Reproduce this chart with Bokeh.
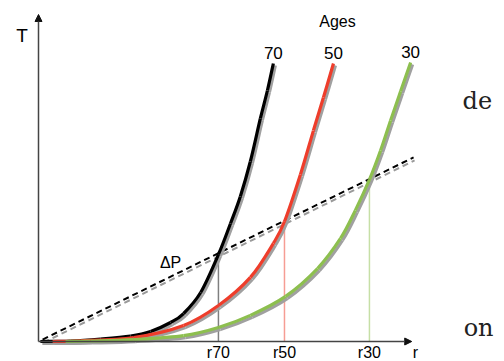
import numpy as np
from bokeh.plotting import figure
from bokeh.models import Range1d, Arrow, NormalHead
from bokeh.core.properties import value
from bokeh.embed import file_html
from bokeh.resources import INLINE

# ---- data (diagram units: r axis 0..100, T axis 0..100) ----
ages = ["70", "50", "30"]
r70 = [0.5, 8.6, 16.7, 24.8, 30.2, 35.6, 39.1, 43.7, 48.5, 51.75, 54.4, 57.1, 59.8, 61.7, 63.3]
T70 = [0.0, 0.15, 0.76, 1.68, 3.06, 5.81, 8.56, 14.98, 26.61, 36.09, 44.34, 55.05, 68.2, 76.76, 85.02]
r50 = [3.8, 11.3, 25.6, 39.1, 48.5, 57.1, 63.3, 66.3, 70.6, 74.1, 76.8, 79.5]
T50 = [0.0, 0.2, 1.2, 4.9, 11.0, 19.6, 30.0, 36.7, 51.1, 64.5, 74.6, 85.0]
r30 = [7.3, 14.0, 25.6, 39.1, 48.5, 57.1, 66.6, 75.2, 81.4, 85.4, 89.2, 92.2, 94.9, 97.6, 100.3]
T30 = [0.0, 0.15, 0.6, 1.8, 4.3, 8.0, 13.8, 22.3, 31.5, 40.1, 49.5, 58.4, 67.6, 76.5, 85.3]
dP_r = [1.1, 101.1]
dP_T = [0.6, 56.3]
r_cross = [48.5, 66.3, 89.2]
r_labels = ["r70", "r50", "r30"]

colors = ["#000000", "#ee3d2b", "#8dbf4f"]
shadow = "#a0a0a0"
SANS = "Liberation Sans"

# pixel scale of the diagram units
PX_X, PX_Y = 3.71, 3.27
sdx, sdy = 2 / PX_X, -2 / PX_Y

p = figure(width=504, height=361,
           x_range=Range1d(-10.243, 125.606), y_range=Range1d(-6.116, 104.281),
           x_axis_type=None, y_axis_type=None,
           output_backend="svg", toolbar_location=None, min_border=0)
p.grid.visible = False
p.outline_line_color = None
p.background_fill_color = "white"
p.border_fill_color = "white"

# axes with arrow heads
for xe, ye in [(0, 100), (100.6, 0)]:
    p.add_layout(Arrow(end=NormalHead(size=7, fill_color="#111111", line_color="#111111"),
                       x_start=0, y_start=0, x_end=xe, y_end=ye,
                       line_color="#444444", line_width=1.5))

# dashed Delta P line with shadow
dr = np.array(dP_r); dT = np.array(dP_T)
p.line(dr + 1 / PX_X, dT - 3 / PX_Y, line_color="#9a9a9a", line_width=2, line_dash="6 4")
p.line(dr, dT, line_color="black", line_width=2, line_dash="6 4")

# vertical dotted lines at crossings
T_cross = np.interp(r_cross, dP_r, dP_T)
for rc, tc, c in zip(r_cross, T_cross, colors):
    p.segment(x0=[rc], y0=[0], x1=[rc], y1=[tc], line_color=c, line_width=1.5, line_dash="1 1")


def smooth(x, y, **kw):
    """Draw a smooth curve through the read points (Catmull-Rom as cubic Beziers)."""
    x = np.asarray(x, float); y = np.asarray(y, float)
    xp = np.concatenate([[x[0]], x, [x[-1]]]); yp = np.concatenate([[y[0]], y, [y[-1]]])
    x0, y0, x1, y1 = xp[1:-2], yp[1:-2], xp[2:-1], yp[2:-1]
    cx0 = x0 + (xp[2:-1] - xp[:-3]) / 6; cy0 = y0 + (yp[2:-1] - yp[:-3]) / 6
    cx1 = x1 - (xp[3:] - xp[1:-2]) / 6; cy1 = y1 - (yp[3:] - yp[1:-2]) / 6
    p.bezier(x0=x0, y0=y0, x1=x1, y1=y1, cx0=cx0, cy0=cy0, cx1=cx1, cy1=cy1, **kw)


curves = [(r70, T70), (r50, T50), (r30, T30)]
for (rr, tt), c in zip(curves, colors):
    rr = np.array(rr); tt = np.array(tt)
    smooth(rr + sdx, tt + sdy, line_color=shadow, line_width=3.2)
    smooth(rr, tt, line_color=c, line_width=3.2)


def label(x, y, text, size, font=SANS, align="center", dy=0, color="black"):
    # alphabetic baseline in the svg output sits ~0.37em low: lift it back
    p.text(x=x, y=y, text=text, text_font=value(font), text_font_size=f"{size}px",
           text_align=align, text_baseline="alphabetic", y_offset=dy - 0.37 * size,
           text_color=color)


# age labels at curve tops
label([c[0][-1] for c in curves], [c[1][-1] for c in curves], ages, 17, dy=-4)
label([80.6], [96.0], ["Ages"], 16)
label([-4.45], [91.44], ["T"], 19)
label([35.6], [22.3], ["ΔP"], 16)
label(r_cross + [101.6], [-5.2] * 4, r_labels + ["r"], 16)

# stray page text on the right
label([114.3, 114.6], [70.9, 1.5], ["de", "on"], 24, font="DejaVu Serif", align="left",
      color="#222222")

open("out.html", "w").write(file_html(p, INLINE))
